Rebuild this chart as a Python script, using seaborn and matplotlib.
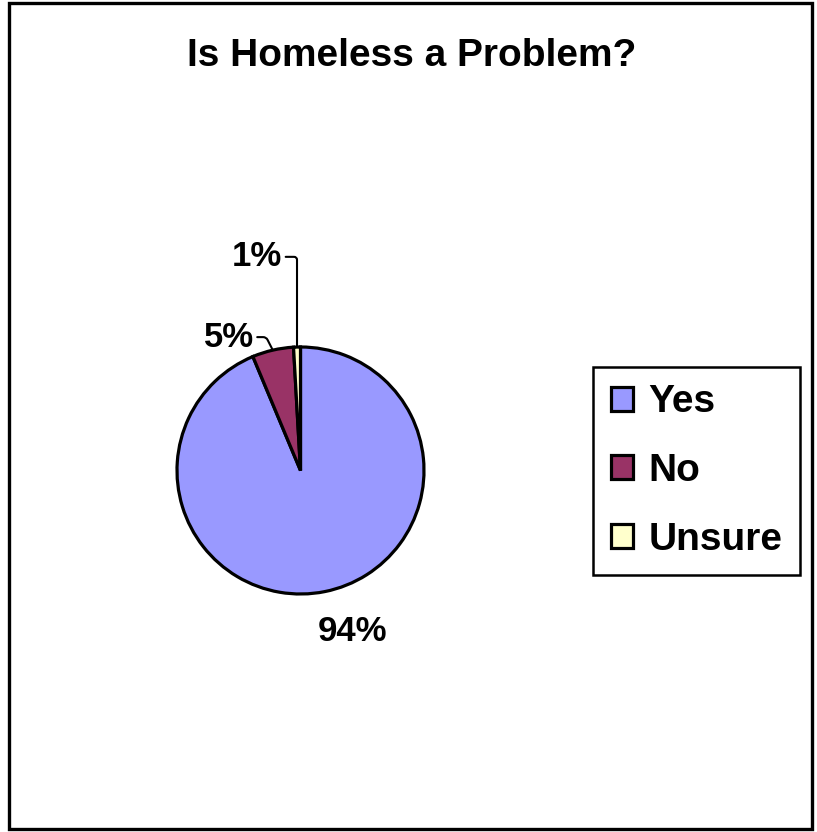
import numpy as np
import seaborn as sns
import matplotlib
matplotlib.use("Agg")
import matplotlib.pyplot as plt
from matplotlib.patches import Rectangle

# data
answers = ["Yes", "No", "Unsure"]
shares = [93.7, 5.4, 0.9]
slice_colors = ["#9999FF", "#993366", "#FFFFCC"]

# label text positions (pie radius units, relative to centre)
label_xy = [(0.42, -1.30), (-0.58, 1.08), (-0.35, 1.73)]
leader_angle = [None, 117, 90]

sns.set_theme(style="white")
plt.rcParams["font.family"] = ["Liberation Sans", "DejaVu Sans"]
plt.rcParams["font.weight"] = "bold"
plt.rcParams["text.color"] = "black"

fig = plt.figure(figsize=(8.17, 8.32), dpi=100)
fig.patch.set_facecolor("white")

# outer chart frame
fig.patches.append(Rectangle((9 / 817, 3 / 832), 803 / 817, 826 / 832,
                             transform=fig.transFigure, fill=False,
                             edgecolor="black", linewidth=2.4))

# pie axes: centre (300.5, 470.5) px, radius 123.5 px, limits +-1.25
half = 1.25 * 123.5
ax = fig.add_axes([(300.5 - half) / 817, (832 - 470.5 - half) / 832,
                   2 * half / 817, 2 * half / 832])
palette = sns.color_palette(slice_colors)
wedges, _ = ax.pie(shares, colors=palette, startangle=90, counterclock=False,
                   wedgeprops=dict(edgecolor="black", linewidth=2.3))
ax.set_xlim(-1.25, 1.25)
ax.set_ylim(-1.25, 1.25)
ax.set_aspect("equal")
ax.axis("off")

for w, v, pos, ang in zip(wedges, shares, label_xy, leader_angle):
    mid = np.deg2rad((w.theta1 + w.theta2) / 2)
    edge = (np.cos(mid), np.sin(mid))
    txt = f"{v:.0f}%"
    if ang is None:
        ax.text(pos[0], pos[1], txt, ha="center", va="center", color="black",
                fontsize=25, fontweight="bold", clip_on=False)
    else:
        ax.annotate(txt, xy=edge, xytext=pos, ha="center", va="center",
                    color="black", fontsize=25, fontweight="bold",
                    annotation_clip=False,
                    arrowprops=dict(arrowstyle="-", color="black", lw=1.5,
                                    shrinkA=0, shrinkB=0,
                                    connectionstyle=f"angle,angleA=0,angleB={ang},rad=3"))

fig.text(412 / 817, 1 - 56 / 832, "Is Homeless a Problem?", ha="center",
         va="center", color="black", fontsize=28, fontweight="bold")

leg = fig.legend(wedges, answers, loc="upper left",
                 bbox_to_anchor=(593 / 817, 1 - 367 / 832),
                 bbox_transform=fig.transFigure,
                 prop=dict(size=28, weight="bold"),
                 handlelength=0.57, handleheight=0.57, handletextpad=0.4,
                 labelspacing=0.84, borderpad=0.45, borderaxespad=0,
                 frameon=True, fancybox=False, framealpha=1)
leg.get_frame().set_edgecolor("black")
leg.get_frame().set_linewidth(1.8)
for t in leg.get_texts():
    t.set_color("black")

fig.savefig("out.png", dpi=100, facecolor="white")
